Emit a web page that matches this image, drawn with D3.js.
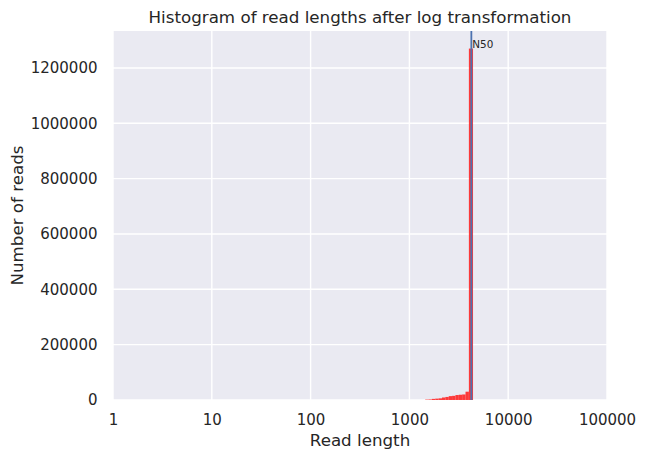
<!DOCTYPE html>
<html>
<head>
<meta charset="utf-8">
<script src="https://cdn.jsdelivr.net/npm/d3@7"></script>
<style>
  body { margin: 0; background: #fff; }
  text { font-family: "DejaVu Sans", sans-serif; fill: #262626; }
</style>
</head>
<body>
<svg id="chart" width="647" height="458"></svg>
<script>
// Data (bins in log10 space of read length)
const binEdgesLog10 = [3.160, 3.194, 3.228, 3.262, 3.296, 3.330, 3.364, 3.398, 3.432, 3.466, 3.500, 3.534, 3.568, 3.602, 3.644];
const binCounts = [1500, 2000, 4000, 5000, 6000, 9000, 11000, 14000, 15000, 18000, 19000, 20000, 30000, 1270000];
const n50Log10 = 3.627;
const xTickValues = [1, 10, 100, 1000, 10000, 100000];
const xTickLabels = ["1", "10", "100", "1000", "10000", "100000"];
const yTickValues = [0, 200000, 400000, 600000, 800000, 1000000, 1200000];
const yTickLabels = ["0", "200000", "400000", "600000", "800000", "1000000", "1200000"];
const titleText = "Histogram of read lengths after log transformation";
const xLabel = "Read length";
const yLabel = "Number of reads";

const W = 647, H = 458;
const m = { left: 113, right: 40, top: 31, bottom: 58 };
const iw = W - m.left - m.right, ih = H - m.top - m.bottom;

const svg = d3.select("#chart");
const g = svg.append("g").attr("transform", `translate(${m.left},${m.top})`);

const x = d3.scaleLog().domain([1, 100000]).range([0, iw]);
const yMax = d3.max(binCounts) * 1.05;
const y = d3.scaleLinear().domain([0, yMax]).range([ih, 0]);

g.append("rect").attr("width", iw).attr("height", ih).attr("fill", "#eaeaf2");

// grid
g.selectAll(".gx").data(xTickValues).enter().append("line")
  .attr("x1", d => x(d)).attr("x2", d => x(d)).attr("y1", 0).attr("y2", ih)
  .attr("stroke", "#fff").attr("stroke-width", 1.4);
g.selectAll(".gy").data(yTickValues).enter().append("line")
  .attr("y1", d => y(d)).attr("y2", d => y(d)).attr("x1", 0).attr("x2", iw)
  .attr("stroke", "#fff").attr("stroke-width", 1.4);

// bars
const bins = binCounts.map((c, i) => ({ x0: Math.pow(10, binEdgesLog10[i]), x1: Math.pow(10, binEdgesLog10[i + 1]), c }));
g.selectAll(".bar").data(bins).enter().append("rect")
  .attr("x", d => x(d.x0)).attr("width", d => x(d.x1) - x(d.x0))
  .attr("y", d => y(d.c)).attr("height", d => ih - y(d.c))
  .attr("fill", "#ff1a1a").attr("fill-opacity", 0.85);

// N50 line
const n50 = Math.pow(10, n50Log10);
g.append("line").attr("x1", x(n50)).attr("x2", x(n50)).attr("y1", 0).attr("y2", ih)
  .attr("stroke", "#4c72b0").attr("stroke-width", 1.8);
g.append("text").attr("x", x(n50) + 1).attr("y", 17).text("N50")
  .attr("font-size", 10.4);

// axes
const xAxis = d3.axisBottom(x).tickValues(xTickValues).tickFormat((d, i) => xTickLabels[i]).tickSize(0).tickPadding(14);
const gx = g.append("g").attr("transform", `translate(0,${ih})`).call(xAxis);
gx.select(".domain").remove();
gx.selectAll("text").attr("font-size", 15).attr("fill", "#262626").style("font-family", "DejaVu Sans");

const yAxis = d3.axisLeft(y).tickValues(yTickValues).tickFormat((d, i) => yTickLabels[i]).tickSize(0).tickPadding(15.5);
const gy = g.append("g").call(yAxis);
gy.select(".domain").remove();
gy.selectAll("text").attr("font-size", 15).attr("fill", "#262626").style("font-family", "DejaVu Sans");

// labels
svg.append("text").attr("x", m.left + iw / 2).attr("y", 22.5).attr("text-anchor", "middle")
  .attr("font-size", 16.7).text(titleText);
svg.append("text").attr("x", m.left + iw / 2).attr("y", 446).attr("text-anchor", "middle")
  .attr("font-size", 16.7).text(xLabel);
svg.append("text").attr("transform", `translate(23,${m.top + ih / 2}) rotate(-90)`).attr("text-anchor", "middle")
  .attr("font-size", 16.7).text(yLabel);
</script>
</body>
</html>
